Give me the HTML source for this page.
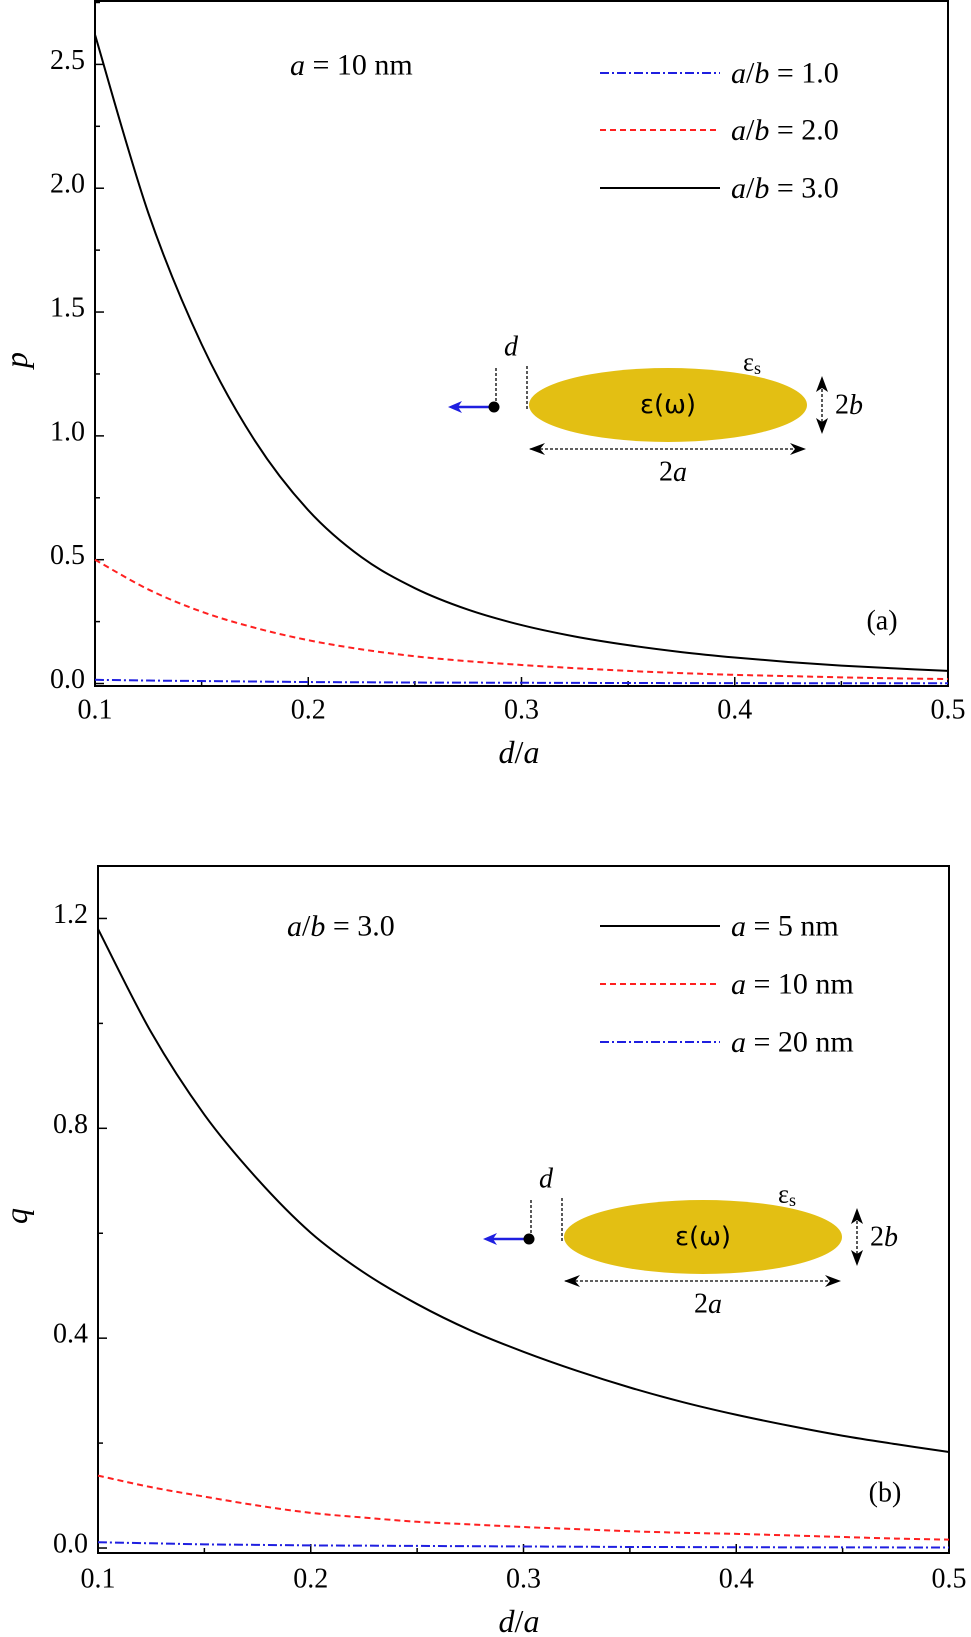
<!DOCTYPE html>
<html><head><meta charset="utf-8"><style>
html,body{margin:0;padding:0;background:#fff}
svg{display:block}
text{font-family:"Liberation Serif",serif;fill:#000}
.it{font-style:italic}
</style></head><body>
<svg id="fig" width="971" height="1637" viewBox="0 0 971 1637" xmlns="http://www.w3.org/2000/svg"></svg>
<script>
const xs = [0.1,0.125,0.15,0.175,0.2,0.225,0.25,0.275,0.3,0.325,0.35,0.375,0.4,0.425,0.45,0.475,0.5];
const pAB3 = [2.62,1.9,1.37,0.98,0.70,0.51,0.385,0.298,0.236,0.19,0.155,0.127,0.105,0.087,0.0725,0.061,0.051];
const pAB2 = [0.5,0.38,0.29,0.225,0.175,0.138,0.11,0.09,0.075,0.062,0.051,0.042,0.035,0.03,0.025,0.021,0.018];
const pAB1 = [0.015,0.012,0.01,0.008,0.006,0.005,0.004,0.0035,0.003,0.0025,0.002,0.0018,0.0015,0.0013,0.0012,0.0011,0.001];
const qA5 = [1.18,0.983,0.826,0.703,0.601,0.525,0.465,0.415,0.374,0.338,0.306,0.278,0.254,0.233,0.214,0.198,0.183];
const qA10 = [0.138,0.116,0.098,0.081,0.067,0.058,0.05,0.045,0.04,0.036,0.032,0.029,0.027,0.024,0.021,0.018,0.016];
const qA20 = [0.011,0.009,0.007,0.006,0.005,0.0045,0.004,0.0035,0.003,0.0025,0.002,0.0018,0.0015,0.0013,0.0012,0.0011,0.001];
const xTicks = [0.1,0.2,0.3,0.4,0.5];
const xTickLabels = ["0.1","0.2","0.3","0.4","0.5"];
const pTicks = [0,0.5,1.0,1.5,2.0,2.5];
const pTickLabels = ["0.0","0.5","1.0","1.5","2.0","2.5"];
const qTicks = [0,0.4,0.8,1.2];
const qTickLabels = ["0.0","0.4","0.8","1.2"];

const NS="http://www.w3.org/2000/svg";
const svg=document.getElementById('fig');
function mk(tag,attrs,parent){const e=document.createElementNS(NS,tag);for(const k in attrs)e.setAttribute(k,attrs[k]);(parent||svg).appendChild(e);return e;}
function txt(s,x,y,size,parent,cls,anchor){const t=mk('text',{x:x,y:y,'font-size':size,'text-anchor':anchor||'middle','dominant-baseline':'central'},parent);if(cls)t.setAttribute('class',cls);t.innerHTML=s;return t;}

function panel(cfg){
  const g=mk('g',{});
  
  
  const X=v=>cfg.L+(v-0.1)/(0.5-0.1)*(cfg.R-cfg.L);
  const Y=v=>cfg.B-(v-cfg.ymin)/(cfg.ymax-cfg.ymin)*(cfg.B-cfg.T);
  const fr=mk('rect',{x:cfg.L,y:cfg.T,width:cfg.R-cfg.L,height:cfg.B-cfg.T,fill:'none',stroke:'#000','stroke-width':2},g);
  
  
  for(let v=0.1;v<=0.5001;v+=0.05){
    const major=Math.abs((v*10)-Math.round(v*10))<1e-6;
    const l=major?9:5;
    mk('line',{x1:X(v),x2:X(v),y1:cfg.B,y2:cfg.B-l,stroke:'#000','stroke-width':1.5},g);
  }
  xTicks.forEach((v,i)=>{const t=txt(xTickLabels[i],X(v),cfg.xlabY,28,g);
    
    });
  for(let v=0;v<=cfg.ymax+1e-6;v+=cfg.minor){
    const major=Math.abs(v/cfg.major-Math.round(v/cfg.major))<1e-6;
    mk('line',{x1:cfg.L,x2:cfg.L+(major?9:5),y1:Y(v),y2:Y(v),stroke:'#000','stroke-width':1.5},g);
  }
  cfg.yt.forEach((v,i)=>{const t=txt(cfg.ytl[i],cfg.L-10,Y(v)-4,28,g,null,'end');
    
    });
  cfg.series.forEach(s=>{
    const pts=xs.map((x,i)=>[X(x),Y(s.v[i])]);
    let d='M'+pts[0][0]+','+pts[0][1];
    for(let i=0;i<pts.length-1;i++){
      const p0=pts[Math.max(0,i-1)],p1=pts[i],p2=pts[i+1],p3=pts[Math.min(pts.length-1,i+2)];
      const c1=[p1[0]+(p2[0]-p0[0])/6,p1[1]+(p2[1]-p0[1])/6];
      const c2=[p2[0]-(p3[0]-p1[0])/6,p2[1]-(p3[1]-p1[1])/6];
      d+=' C'+c1+' '+c2+' '+p2;
    }
    const pa=mk('path',{d:d,fill:'none',stroke:s.c,'stroke-width':2,'stroke-dasharray':s.dash},g);
    
    
  });
  cfg.series.forEach((s,i)=>{
    const y=cfg.legY[i];
    const lg=mk('g',{},g);
    
    
    mk('line',{x1:600,x2:720,y1:y,y2:y,stroke:s.c,'stroke-width':2,'stroke-dasharray':s.dash},lg);
    txt(s.label,731,y,30,lg,null,'start');
  });
  const a=txt(cfg.annot,cfg.annX,cfg.annY,30,g,null,'start');
  
  
  const pl=txt(cfg.pl,cfg.plX,cfg.plY,28,g);
  
  
  const xl=txt('<tspan class="it">d</tspan>/<tspan class="it">a</tspan>',519,cfg.xtitY,32,g);
  
  
  const yl=txt(cfg.yname,16,cfg.ytitY,32,g,'it');
  yl.setAttribute('transform','rotate(-90 16 '+cfg.ytitY+')');
  
  
  const ig=mk('g',{transform:'translate('+cfg.ix+','+cfg.iy+')'},g);
  
  
  mk('ellipse',{cx:668,cy:405,rx:139,ry:37,fill:'#e3bf13'},ig);
  txt('ε(ω)',668,405,30,ig,null,'middle').setAttribute('style','font-family:"DejaVu Sans",sans-serif;font-size:26px');
  mk('line',{x1:496,x2:496,y1:368,y2:405,stroke:'#000','stroke-width':1.3,'stroke-dasharray':'3,2'},ig);
  mk('line',{x1:527,x2:527,y1:366,y2:410,stroke:'#000','stroke-width':1.3,'stroke-dasharray':'3,2'},ig);
  mk('line',{x1:494,x2:456,y1:407,y2:407,stroke:'#1f1fe0','stroke-width':2.5},ig);
  mk('path',{d:'M448,407 L462,401 L458,407 L462,413 Z',fill:'#1f1fe0'},ig);
  mk('circle',{cx:494,cy:407,r:5.5,fill:'#000'},ig);
  txt('d',511,347,28,ig,'it');
  txt('ε<tspan font-size="18" dy="6">s</tspan>',752,362,26,ig);
  mk('line',{x1:530,x2:804,y1:449,y2:449,stroke:'#000','stroke-width':1.3,'stroke-dasharray':'3,2'},ig);
  mk('path',{d:'M529,449 L545,443 L540,449 L545,455 Z',fill:'#000'},ig);
  mk('path',{d:'M806,449 L790,443 L795,449 L790,455 Z',fill:'#000'},ig);
  txt('2<tspan class="it">a</tspan>',673,472,28,ig);
  mk('line',{x1:822,x2:822,y1:384,y2:426,stroke:'#000','stroke-width':1.3,'stroke-dasharray':'3,2'},ig);
  mk('path',{d:'M822,376 L816,392 L822,388 L828,392 Z',fill:'#000'},ig);
  mk('path',{d:'M822,434 L816,418 L822,422 L828,418 Z',fill:'#000'},ig);
  txt('2<tspan class="it">b</tspan>',849,405,28,ig);
}

panel({name:'panel-a',L:95,R:948,T:1,B:686,ymin:-0.01,ymax:2.756,minor:0.25,major:0.5,yt:pTicks,ytl:pTickLabels,
  xlabY:710,xtitY:752,ytitY:360,yname:'p',pl:'(a)',plX:882,plY:621,
  annot:'<tspan class="it">a</tspan> = 10 nm',annX:290,annY:65,legY:[73,130,188],ix:0,iy:0,
  series:[
   {v:pAB1,c:'#1f1fe0',dash:'9,3,2,3',n:'line-ab-1',label:'<tspan class="it">a</tspan>/<tspan class="it">b</tspan> = 1.0'},
   {v:pAB2,c:'#ff2020',dash:'6,4',n:'line-ab-2',label:'<tspan class="it">a</tspan>/<tspan class="it">b</tspan> = 2.0'},
   {v:pAB3,c:'#000',dash:'none',n:'line-ab-3',label:'<tspan class="it">a</tspan>/<tspan class="it">b</tspan> = 3.0'}]});
panel({name:'panel-b',L:98,R:949,T:866,B:1553,ymin:-0.0095,ymax:1.3,minor:0.2,major:0.4,yt:qTicks,ytl:qTickLabels,
  xlabY:1579,xtitY:1621,ytitY:1216,yname:'q',pl:'(b)',plX:885,plY:1493,
  annot:'<tspan class="it">a</tspan>/<tspan class="it">b</tspan> = 3.0',annX:287,annY:926,legY:[926,984,1042],ix:35,iy:832,
  series:[
   {v:qA5,c:'#000',dash:'none',n:'line-a-5nm',label:'<tspan class="it">a</tspan> = 5 nm'},
   {v:qA10,c:'#ff2020',dash:'6,4',n:'line-a-10nm',label:'<tspan class="it">a</tspan> = 10 nm'},
   {v:qA20,c:'#1f1fe0',dash:'9,3,2,3',n:'line-a-20nm',label:'<tspan class="it">a</tspan> = 20 nm'}]});
</script>
</body></html>
